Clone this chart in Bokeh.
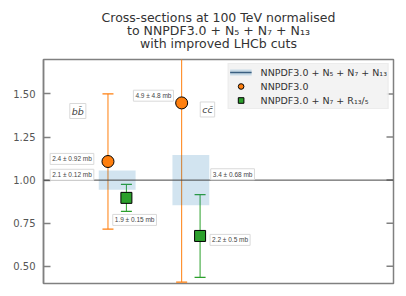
import math
from bokeh.plotting import figure
from bokeh.models import (Range1d, FixedTicker, Title, Span, Whisker, TeeHead,
                          ColumnDataSource, Label, Legend, LegendItem, NumeralTickFormatter)
from bokeh.embed import file_html
from bokeh.resources import INLINE

# ---- data ----
processes = ["bb", "cc"]
process_pos = [1, 2]
process_labels = ["b\u0062\u0304", "c\u0063\u0304"]
band_halfwidth = [0.056, 0.146]           # NNPDF3.0 + N5 + N7 + N13 (ratio = 1)
nnpdf30_ratio = [1.108, 1.448]
nnpdf30_err = [0.392, 1.04]
r135_ratio = [0.897, 0.676]
r135_err = [0.078, 0.24]
band_text = ["2.1 \u00b1 0.12 mb", "3.4 \u00b1 0.68 mb"]
nnpdf30_text = ["2.4 \u00b1 0.92 mb", "4.9 \u00b1 4.8 mb"]
r135_text = ["1.9 \u00b1 0.15 mb", "2.2 \u00b1 0.5 mb"]
y_ticks = [0.5, 0.75, 1.0, 1.25, 1.5]
titles = ["Cross-sections at 100 TeV normalised",
          "to NNPDF3.0 + N\u2085 + N\u2087 + N\u2081\u2083",
          "with improved LHCb cuts"]

ORANGE = "#ff7f0e"
GREEN = "#2ca02c"
BLUE = "#1f77b4"
FRAME = "#808080"
FONT = "DejaVu Sans"
SMALL = "Liberation Sans"

X0, X1 = 0.0, 4.75
p = figure(width=406, height=296, output_backend="svg", toolbar_location=None,
           x_range=Range1d(X0, X1), y_range=Range1d(0.4, 1.7),
           min_border_left=43, min_border_right=13, min_border_top=59, min_border_bottom=13)
p.xaxis.visible = False
p.xgrid.visible = False
p.ygrid.visible = False
p.outline_line_color = FRAME
p.outline_line_width = 1.5

yax = p.yaxis[0]
yax.ticker = FixedTicker(ticks=y_ticks)
yax.formatter = NumeralTickFormatter(format="0.00")
yax.major_tick_in = 7
yax.major_tick_out = 0
yax.minor_tick_line_color = None
yax.axis_line_color = FRAME
yax.axis_line_width = 1.5
yax.major_tick_line_color = FRAME
yax.major_tick_line_width = 1.5
yax.major_label_text_font = FONT
yax.major_label_text_font_size = "10px"
yax.major_label_text_color = "#555555"
yax.major_label_standoff = 8

# right-side inward ticks
p.segment(x0=[X1 - 0.095] * len(y_ticks), x1=[X1] * len(y_ticks), y0=y_ticks, y1=y_ticks,
          line_color=FRAME, line_width=1.5)

# blank title panel: gap between the frame and the title block
p.add_layout(Title(text=" ", text_font=FONT, text_font_size="6px", standoff=1.5), "above")

for txt in reversed(titles):
    p.add_layout(Title(text=txt, align="center", text_font=FONT, text_font_size="12.5px",
                       text_font_style="normal", text_color="#333333", text_line_height=0.85,
                       standoff=-4.1), "above")

# bands
band_src = ColumnDataSource(dict(
    left=[x - 0.25 for x in process_pos], right=[x + 0.25 for x in process_pos],
    bottom=[1 - h for h in band_halfwidth], top=[1 + h for h in band_halfwidth]))
band = p.quad(left="left", right="right", bottom="bottom", top="top", source=band_src,
              fill_color=BLUE, fill_alpha=0.2, line_color=None)

p.add_layout(Span(location=1.0, dimension="width", line_color="#444444", line_width=1))

# NNPDF3.0 points
o_src = ColumnDataSource(dict(
    x=[x - 0.125 for x in process_pos], y=nnpdf30_ratio,
    lo=[v - e for v, e in zip(nnpdf30_ratio, nnpdf30_err)],
    hi=[v + e for v, e in zip(nnpdf30_ratio, nnpdf30_err)]))
p.add_layout(Whisker(source=o_src, base="x", lower="lo", upper="hi", dimension="height",
                     line_color=ORANGE, line_width=1,
                     lower_head=TeeHead(size=11, line_color=ORANGE, line_width=1.2),
                     upper_head=TeeHead(size=11, line_color=ORANGE, line_width=1.2)))
o_r = p.scatter("x", "y", source=o_src, marker="circle", size=12, fill_color=ORANGE,
                line_color="black", line_width=1)

# R13/5 points
g_src = ColumnDataSource(dict(
    x=[x + 0.125 for x in process_pos], y=r135_ratio,
    lo=[v - e for v, e in zip(r135_ratio, r135_err)],
    hi=[v + e for v, e in zip(r135_ratio, r135_err)]))
p.add_layout(Whisker(source=g_src, base="x", lower="lo", upper="hi", dimension="height",
                     line_color=GREEN, line_width=1,
                     lower_head=TeeHead(size=11, line_color=GREEN, line_width=1.2),
                     upper_head=TeeHead(size=11, line_color=GREEN, line_width=1.2)))
g_r = p.scatter("x", "y", source=g_src, marker="square", size=11, fill_color=GREEN,
                line_color="black", line_width=1)

# legend proxies
nan = float("nan")
proxy_band = p.line([nan], [nan], line_color=BLUE, line_alpha=0.2, line_width=6)
proxy_line = p.line([nan], [nan], line_color="#3a5f80", line_width=1.5)

legend = Legend(items=[
    LegendItem(label="NNPDF3.0 + N\u2085 + N\u2087 + N\u2081\u2083", renderers=[proxy_band, proxy_line]),
    LegendItem(label="NNPDF3.0", renderers=[o_r]),
    LegendItem(label="NNPDF3.0 + N\u2087 + R\u2081\u2083/\u2085", renderers=[g_r]),
], location="top_right", margin=4, padding=1, spacing=0, glyph_width=22, glyph_height=14,
   label_height=14, label_standoff=9, label_text_font=FONT, label_text_font_size="9.5px",
   label_text_color="#333333", background_fill_color="#f2f2f2", background_fill_alpha=0.9,
   border_line_color="#e6e6e6")
p.add_layout(legend)

# value labels
def box_label(x, y, text, size="6.5px", font=SMALL, style="normal", pad=2, align="left"):
    p.add_layout(Label(x=x, y=y, text=text, text_font=font, text_font_size=size,
                       text_font_style=style, text_align=align, text_baseline="middle",
                       text_color="#444444", background_fill_color="white",
                       border_line_color="#d9d9d9", border_line_width=1, padding=pad))

box_label(0.09, 1.123, nnpdf30_text[0])
box_label(0.09, 1.031, band_text[0])
box_label(1.22, 1.49, nnpdf30_text[1])
box_label(2.27, 1.034, band_text[1])
box_label(0.94, 0.769, r135_text[0])
box_label(2.26, 0.653, r135_text[1])
box_label(0.466, 1.401, process_labels[0], size="9.5px", font=FONT, style="italic", pad=2, align="center")
box_label(2.225, 1.41, process_labels[1], size="9.5px", font=FONT, style="italic", pad=2, align="center")

open("out.html", "w").write(file_html(p, INLINE))
